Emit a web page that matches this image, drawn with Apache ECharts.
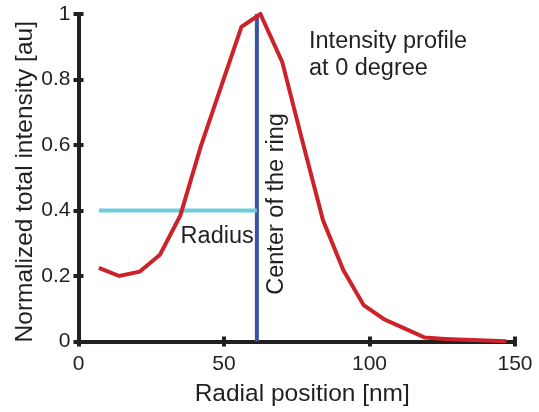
<!DOCTYPE html>
<html>
<head>
<meta charset="utf-8">
<script src="https://cdn.jsdelivr.net/npm/echarts@6/dist/echarts.min.js"></script>
<style>
  html, body { margin: 0; padding: 0; background: #fff; }
  #chart { width: 539px; height: 412px; }
</style>
</head>
<body>
<div id="chart"></div>
<script>
// Radial intensity profile (nm vs normalized intensity)
const radialPos = [7, 14, 21, 28, 35, 42, 49, 56, 62.5, 70, 77, 84, 91, 98, 105, 112, 119, 126, 133, 140, 147];
const intensity = [0.225, 0.200, 0.213, 0.265, 0.385, 0.595, 0.778, 0.961, 1.000, 0.854, 0.610, 0.371, 0.218, 0.111, 0.068, 0.040, 0.012, 0.008, 0.005, 0.003, 0.001];

// Ring centre and radius marker
const ringCenter = 61.3;
const radiusStart = 7;
const radiusLevel = 0.4;

const xTicks = { min: 0, max: 150, interval: 50 };
const yTicks = { min: 0, max: 1, interval: 0.2 };

const ink = '#231f20';
const font = '"Liberation Sans", Arial, Helvetica, sans-serif';

const frameLine = { show: true, lineStyle: { color: ink, width: 4, cap: 'square' } };
const innerTick = { show: true, inside: true, length: 5, lineStyle: { color: ink, width: 4 } };

const chart = echarts.init(document.getElementById('chart'), null, { renderer: 'canvas' });

chart.setOption({
  animation: false,
  backgroundColor: '#fff',
  grid: { left: 78.5, right: 24, top: 14, bottom: 70.5, containLabel: false, outerBoundsMode: 'none' },
  xAxis: [
    {
      type: 'value', position: 'bottom', ...xTicks,
      axisLine: frameLine, axisTick: innerTick, splitLine: { show: false },
      axisLabel: { color: ink, fontSize: 21, fontFamily: font, margin: 12 },
      name: 'Radial position [nm]', nameLocation: 'middle', nameGap: 40,
      nameTextStyle: { color: ink, fontSize: 24.5, fontFamily: font, padding: [0, 0, 0, 11] }
    },
    {
      type: 'value', position: 'top', ...xTicks,
      axisLine: frameLine, axisTick: innerTick, splitLine: { show: false },
      axisLabel: { show: false }
    }
  ],
  yAxis: [
    {
      type: 'value', position: 'left', ...yTicks,
      axisLine: frameLine, axisTick: innerTick, splitLine: { show: false },
      axisLabel: { color: ink, fontSize: 21, fontFamily: font, margin: 8 },
      name: 'Normalized total intensity [au]', nameLocation: 'middle', nameGap: 41, nameRotate: 90,
      nameMoveOverlap: false,
      nameTextStyle: { color: ink, fontSize: 24.5, fontFamily: font, padding: [0, 8, 0, 0] }
    },
    {
      type: 'value', position: 'right', ...yTicks,
      axisLine: frameLine, axisTick: innerTick, splitLine: { show: false },
      axisLabel: { show: false }
    }
  ],
  series: [
    {
      name: 'Center of the ring', type: 'line', symbol: 'none',
      data: [[ringCenter, yTicks.min], [ringCenter, yTicks.max]],
      lineStyle: { color: '#3953a4', width: 4 }, z: 3
    },
    {
      name: 'Radius', type: 'line', symbol: 'none',
      data: [[radiusStart, radiusLevel], [ringCenter, radiusLevel]],
      lineStyle: { color: '#6ccedc', width: 4 }, z: 3
    },
    {
      name: 'Intensity', type: 'line', symbol: 'none',
      data: radialPos.map((x, i) => [x, intensity[i]]),
      lineStyle: { color: '#cc2229', width: 4, join: 'miter' }, z: 4
    }
  ]
});

// Text annotations placed from data coordinates
const px = (x, y) => chart.convertToPixel({ gridIndex: 0 }, [x, y]);
const centerPt = px(ringCenter, 0.42);
const radiusPt = px((radiusStart + ringCenter) / 2 + 13.5, radiusLevel);

chart.setOption({
  graphic: [
    {
      type: 'text', left: 309, top: 28,
      style: { text: 'Intensity profile\nat 0 degree', fill: ink, font: '23.5px ' + font, lineHeight: 27 }
    },
    {
      type: 'text', x: radiusPt[0], y: radiusPt[1] + 26,
      style: { text: 'Radius', fill: ink, font: '23.5px ' + font, align: 'center', verticalAlign: 'middle' }
    },
    {
      type: 'text', x: centerPt[0] + 20, y: centerPt[1],
      rotation: Math.PI / 2,
      style: { text: 'Center of the ring', fill: ink, font: '23.5px ' + font, align: 'center', verticalAlign: 'middle' }
    }
  ]
});
</script>
</body>
</html>
